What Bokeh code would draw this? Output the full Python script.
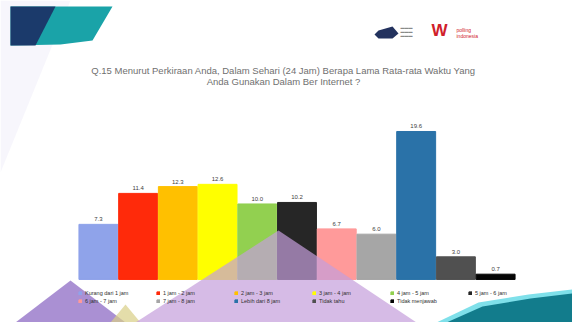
from bokeh.plotting import figure
from bokeh.models import (ColumnDataSource, Range1d, Legend, LegendItem, Label,
                          PolyAnnotation, LabelSet)
from bokeh.embed import file_html
from bokeh.resources import INLINE

# ---- data ----
categories = ["Kurang dari 1 jam", "1 jam - 2 jam", "2 jam - 3 jam", "3 jam - 4 jam",
              "4 jam - 5 jam", "5 jam - 6 jam", "6 jam - 7 jam", "7 jam - 8 jam",
              "Lebih dari 8 jam", "Tidak tahu", "Tidak menjawab"]
values = [7.3, 11.4, 12.3, 12.6, 10.0, 10.2, 6.7, 6.0, 19.6, 3.0, 0.7]
colors = ["#8FA3EA", "#FF2A0A", "#FFC000", "#FFFF00", "#92D050", "#262626",
          "#FF9A9A", "#A6A6A6", "#2A72A8", "#505050", "#050505"]
title_lines = ["Q.15 Menurut Perkiraan Anda, Dalam Sehari (24 Jam) Berapa Lama Rata-rata Waktu Yang",
               "Anda Gunakan Dalam Ber Internet ?"]

src = ColumnDataSource(dict(x=list(range(len(categories))), top=values, color=colors,
                            cat=categories, lbl=[f"{v:.1f}" for v in values]))

p = figure(width=572, height=322, output_backend="svg", toolbar_location=None,
           x_range=Range1d(-2.465, 11.936), y_range=Range1d(-5.7, 36.95), min_border=0)
p.axis.visible = False
p.grid.visible = False
p.outline_line_color = None
p.background_fill_color = "#FFFFFF"

# decorations (screen units)
p.add_layout(PolyAnnotation(xs=[0, 70, 0], ys=[322, 322, 150], xs_units="screen", ys_units="screen",
                            fill_color="#E8E6F7", fill_alpha=0.35, line_color=None, level="underlay"))
p.add_layout(PolyAnnotation(xs=[10, 112, 92, 60, 10], ys=[316, 316, 282, 278, 277], xs_units="screen", ys_units="screen",
                            fill_color="#1AA3A8", fill_alpha=1, line_color=None, level="underlay"))
p.add_layout(PolyAnnotation(xs=[10, 55, 35, 10], ys=[316, 316, 277, 277], xs_units="screen", ys_units="screen",
                            fill_color="#1B3A6B", fill_alpha=1, line_color=None, level="underlay"))
# logos
p.add_layout(PolyAnnotation(xs=[378, 392, 398, 392, 378, 374], ys=[292, 296, 289, 284, 284, 288],
                            xs_units="screen", ys_units="screen",
                            fill_color="#23325E", fill_alpha=1, line_color=None))
for k in range(3):
    p.add_layout(Label(x=400, y=293 - 4 * k, x_units="screen", y_units="screen", text="▬▬▬",
                       text_font_size="4px", text_color="#8A8A8A"))
p.add_layout(Label(x=431, y=283, x_units="screen", y_units="screen", text="W",
                   text_font_size="17px", text_font_style="bold", text_color="#D0202A"))
p.add_layout(Label(x=456, y=290, x_units="screen", y_units="screen", text="polling",
                   text_font_size="5px", text_color="#D0202A"))
p.add_layout(Label(x=456, y=284, x_units="screen", y_units="screen", text="indonesia",
                   text_font_size="5px", text_color="#D0202A"))

r = p.vbar(x="x", top="top", width=0.98, color="color", source=src)

p.add_layout(LabelSet(x="x", y="top", text="lbl", source=src, text_align="center",
                      y_offset=3, text_font_size="6px", text_color="#404040"))

p.add_layout(PolyAnnotation(xs=[15, 70, 125], ys=[0, 42, 0], xs_units="screen", ys_units="screen",
                            fill_color="#8E6BC4", fill_alpha=0.75, line_color=None))
p.add_layout(PolyAnnotation(xs=[110, 140, 125], ys=[0, 0, 18], xs_units="screen", ys_units="screen",
                            fill_color="#D8CF86", fill_alpha=0.7, line_color=None))
p.add_layout(PolyAnnotation(xs=[135, 278, 416], ys=[0, 92, 0], xs_units="screen", ys_units="screen",
                            fill_color="#C59EDB", fill_alpha=0.7, line_color=None))
p.add_layout(PolyAnnotation(xs=[436, 478, 528, 572, 572], ys=[0, 20, 28, 33, 0], xs_units="screen", ys_units="screen",
                            fill_color="#7FE0EA", fill_alpha=1, line_color=None))
p.add_layout(PolyAnnotation(xs=[446, 482, 530, 572, 572], ys=[0, 16, 24, 29, 0], xs_units="screen", ys_units="screen",
                            fill_color="#127C8C", fill_alpha=1, line_color=None))

for i, t in enumerate(title_lines):
    p.add_layout(Label(x=283, y=252 - 11 * i, x_units="screen", y_units="screen", text=t,
                       text_align="center", text_baseline="middle", text_font_size="9.5px",
                       text_color="#707070", text_font="Liberation Sans"))

items = [LegendItem(label=c, renderers=[r], index=i) for i, c in enumerate(categories)]
leg = Legend(items=items, orientation="horizontal", ncols=6, location=(78, 17),
             label_text_font_size="5.5px", glyph_width=4, glyph_height=4, label_standoff=3,
             label_width=71, label_height=8, spacing=0, padding=0, margin=0,
             background_fill_alpha=0, border_line_color=None, label_text_color="#303030")
p.add_layout(leg)

open("out.html", "w").write(file_html(p, INLINE))
